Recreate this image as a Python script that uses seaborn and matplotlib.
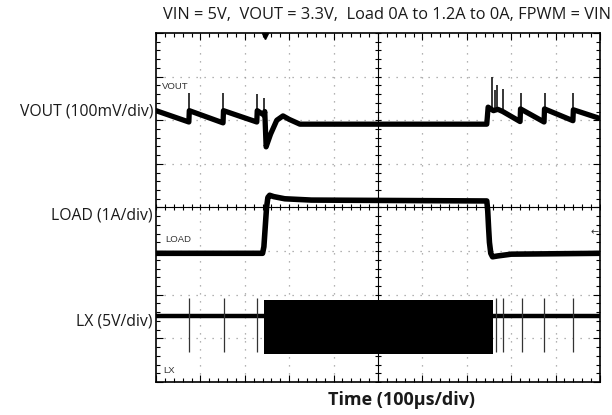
import numpy as np
import pandas as pd
import matplotlib
matplotlib.use("Agg")
import matplotlib.pyplot as plt
import seaborn as sns

# ---- scope settings ----
US_PER_DIV = 100.0          # time base, 100 us/div over 10 divisions
VOUT_MV_PER_DIV = 100.0     # VOUT (AC) 100 mV/div
LOAD_A_PER_DIV = 1.0        # load current 1 A/div
LX_V_PER_DIV = 5.0          # LX 5 V/div
VOUT_POS = 6.0              # channel reference positions, div from bottom
LOAD_POS = 2.95
LX_POS = 0.85

# ---- VOUT (mV around 3.3 V), thick trace ----
vout_t = [0, 74, 75, 151, 152, 227, 228, 243, 245, 248, 258, 272, 286, 300, 324,
          745, 748, 760, 770, 781, 820, 821, 874, 875, 939, 940, 1000]
vout_mv = [22, -4, 22, -6, 22, -4, 22, 12, 20, -61, -32, 0, 10, 2, -9,
           -9, 30, 22, 25, 20, -3, 26, -4, 26, -1, 24, 4]
# VOUT needle spikes (time us, peak mV)
vspike_t = [74, 151, 227, 243, 757, 763, 768, 781, 821, 875, 940]
vspike_mv = [63, 63, 60, 51, 99, 70, 81, 72, 63, 63, 63]

# ---- LOAD current (A) ----
load_t = [0, 240, 243, 246, 249, 252, 256, 265, 290, 350, 745, 747, 749, 751,
          754, 758, 770, 800, 1000]
load_a = [0, 0, 0.15, 0.6, 1.05, 1.28, 1.33, 1.3, 1.25, 1.22, 1.2, 1.0, 0.6, 0.25,
          0.0, -0.08, -0.06, -0.02, 0]

# ---- LX switch node (V) ----
lx_idle_v = 3.3
lx_pulse_t = [74, 153, 227, 766, 781, 824, 874, 939]
lx_pulse_lo, lx_pulse_hi = -0.8, 5.4
lx_burst_t = [243, 759]
lx_burst_lo, lx_burst_hi = -1.0, 5.1

trigger_t = 245
load_marker_div = 3.44

sns.set_style("white")
plt.rcParams['font.family'] = ['Open Sans', 'DejaVu Sans']

fig = plt.figure(figsize=(6.12, 4.15), dpi=100)
ax = fig.add_axes([156 / 612, 1 - 382 / 415, 444 / 612, 349 / 415])

# graticule
for v in range(1, 10):
    ax.axvline(v, color='#9a9a9a', lw=0.9, dashes=(1, 5.4), zorder=0)
for h in range(1, 8):
    ax.axhline(h, color='#9a9a9a', lw=0.9, dashes=(1, 5.4), zorder=0)
ax.axvline(5, color='black', lw=0.8, zorder=1)
ax.axhline(4, color='black', lw=0.8, zorder=1)
minor_x = np.arange(0, 10.01, 0.2)
minor_y = np.arange(0, 8.01, 0.2)
ax.plot(minor_x, np.full_like(minor_x, 4), ls='none', marker='|', ms=5, mew=0.8, color='black', zorder=1)
ax.plot(np.full_like(minor_y, 5), minor_y, ls='none', marker='_', ms=5, mew=0.8, color='black', zorder=1)

# VOUT
vout_df = pd.DataFrame({'t': np.array(vout_t) / US_PER_DIV,
                        'y': VOUT_POS + np.array(vout_mv) / VOUT_MV_PER_DIV})
sns.lineplot(data=vout_df, x='t', y='y', sort=False, estimator=None,
             color='black', lw=3.8, ax=ax, zorder=3)
base_at_spike = np.interp(vspike_t, vout_t, vout_mv)
ax.vlines(np.array(vspike_t) / US_PER_DIV,
          VOUT_POS + base_at_spike / VOUT_MV_PER_DIV,
          VOUT_POS + np.array(vspike_mv) / VOUT_MV_PER_DIV,
          color='black', lw=1.1, zorder=3)

# LOAD
load_df = pd.DataFrame({'t': np.array(load_t) / US_PER_DIV,
                        'y': LOAD_POS + np.array(load_a) / LOAD_A_PER_DIV})
sns.lineplot(data=load_df, x='t', y='y', sort=False, estimator=None,
             color='black', lw=4.0, ax=ax, zorder=3)

# LX
ax.plot([0, 10], [LX_POS + lx_idle_v / LX_V_PER_DIV] * 2, color='black', lw=3.2, zorder=3)
ax.vlines(np.array(lx_pulse_t) / US_PER_DIV,
          LX_POS + lx_pulse_lo / LX_V_PER_DIV, LX_POS + lx_pulse_hi / LX_V_PER_DIV,
          color='#333333', lw=0.9, zorder=3)
ax.fill_between(np.array(lx_burst_t) / US_PER_DIV,
                LX_POS + lx_burst_lo / LX_V_PER_DIV, LX_POS + lx_burst_hi / LX_V_PER_DIV,
                color='black', lw=0, zorder=3)

# markers
ax.plot([trigger_t / US_PER_DIV], [7.93], marker='v', ms=4.5, color='black', clip_on=False, zorder=4)
ax.text(9.98, load_marker_div, '\u2190', ha='right', va='center', fontsize=7,
        family='DejaVu Sans', color='#333333')

# small channel tags
tag_font = dict(fontsize=6.8, family='Liberation Sans', color='#333333', va='center', ha='left')
ax.text(0.14, (382 - 87) / 43.6, 'VOUT', **tag_font)
ax.text(0.2, (382 - 240) / 43.6, 'LOAD', **tag_font)
ax.text(0.17, (382 - 371) / 43.6, 'LX', **tag_font)

ax.set_xlim(0, 10)
ax.set_ylim(0, 8)
ax.set_xticks(np.arange(0, 11, 1))
ax.set_yticks(np.arange(0, 9, 1))
ax.set_xticks(minor_x, minor=True)
ax.set_yticks(minor_y, minor=True)
ax.tick_params(which='both', direction='in', top=True, right=True, left=True, bottom=True,
               labelbottom=False, labelleft=False, color='black')
ax.tick_params(which='major', length=5, width=0.8)
ax.tick_params(which='minor', length=3, width=0.8)
ax.set_xlabel('')
ax.set_ylabel('')
for s in ax.spines.values():
    s.set_color('black')
    s.set_linewidth(1.2)

# outside labels
lab = dict(fontsize=11.3, ha='right', va='center', color='#1a1a1a')
fig.text(153 / 612, 1 - 112 / 415, 'VOUT (100mV/div)', **lab)
fig.text(153 / 612, 1 - 215 / 415, 'LOAD (1A/div)', **lab)
fig.text(153 / 612, 1 - 322 / 415, 'LX (5V/div)', **lab)
fig.text(611 / 612, 1 - 15 / 415, 'VIN = 5V,  VOUT = 3.3V,  Load 0A to 1.2A to 0A, FPWM = VIN',
         fontsize=11.8, ha='right', va='center', color='#1a1a1a')
fig.text(402 / 612, 1 - 400 / 415, 'Time (100\u00b5s/div)', fontsize=13, fontweight='bold',
         ha='center', va='center', color='#1a1a1a')

fig.savefig('out.png', dpi=100)
